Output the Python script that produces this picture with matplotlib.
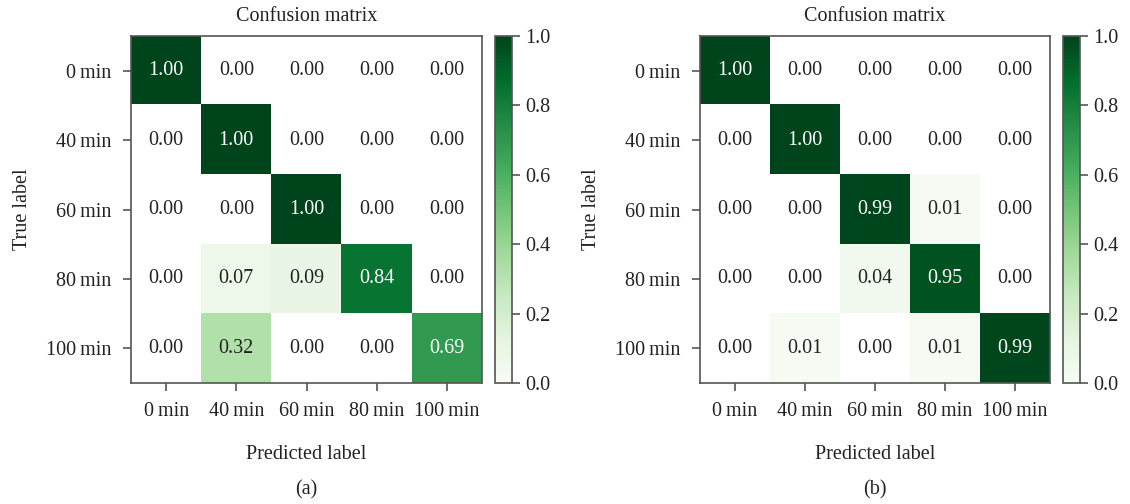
import numpy as np
import matplotlib
matplotlib.use("Agg")
import matplotlib.pyplot as plt

plt.rcParams['font.family'] = ['Liberation Serif', 'DejaVu Serif']

labels = ["0\u2009min", "40\u2009min", "60\u2009min", "80\u2009min", "100\u2009min"]

cm_a = np.array([
    [1.00, 0.00, 0.00, 0.00, 0.00],
    [0.00, 1.00, 0.00, 0.00, 0.00],
    [0.00, 0.00, 1.00, 0.00, 0.00],
    [0.00, 0.07, 0.09, 0.84, 0.00],
    [0.00, 0.32, 0.00, 0.00, 0.69],
])

cm_b = np.array([
    [1.00, 0.00, 0.00, 0.00, 0.00],
    [0.00, 1.00, 0.00, 0.00, 0.00],
    [0.00, 0.00, 0.99, 0.01, 0.00],
    [0.00, 0.00, 0.04, 0.95, 0.00],
    [0.00, 0.01, 0.00, 0.01, 0.99],
])

edge = "#555555"
txt = "#222222"
fs = 14.5


def draw_cm(fig, cm, ax_rect, cb_rect, letter):
    ax = fig.add_axes(ax_rect)
    ax.set_facecolor("white")
    # zero cells show as plain white in the original
    im = ax.imshow(np.ma.masked_equal(cm, 0), cmap="Greens", vmin=0, vmax=1,
                   interpolation="nearest", aspect="auto")
    n = len(labels)
    for i in range(n):
        for j in range(n):
            col = "white" if cm[i, j] > 0.5 else txt
            ax.text(j, i, "%.2f" % cm[i, j], ha="center", va="center", color=col, fontsize=fs)
    ax.set_xticks(range(n))
    ax.set_yticks(range(n))
    ax.set_xticklabels(labels, fontsize=fs)
    ax.set_yticklabels(labels, fontsize=fs)
    ax.tick_params(colors=edge, labelcolor=txt, length=6, width=1.2, pad=8)
    for s in ax.spines.values():
        s.set_color(edge)
        s.set_linewidth(1.2)
    ax.set_title("Confusion matrix", fontsize=fs, color=txt, pad=11)
    ax.set_xlabel("Predicted label", fontsize=fs, color=txt, labelpad=17)
    ax.set_ylabel("True label", fontsize=fs, color=txt, labelpad=10)

    cax = fig.add_axes(cb_rect)
    cb = fig.colorbar(im, cax=cax)
    cb.set_ticks([0.0, 0.2, 0.4, 0.6, 0.8, 1.0])
    cb.ax.tick_params(colors=edge, labelcolor=txt, length=6, width=1.2, labelsize=fs)
    cb.outline.set_edgecolor(edge)
    cb.outline.set_linewidth(1.2)

    x0 = ax_rect[0] + ax_rect[2] / 2
    fig.text(x0, 0.028, letter, ha="center", va="center", fontsize=fs, color=txt)


fig = plt.figure(figsize=(11.3, 5.04), dpi=100)
draw_cm(fig, cm_a, [0.116, 0.240, 0.3105, 0.6886], [0.438, 0.240, 0.015, 0.6886], "(a)")
draw_cm(fig, cm_b, [0.6195, 0.240, 0.3095, 0.6886], [0.9407, 0.240, 0.015, 0.6886], "(b)")
fig.savefig("out.png", dpi=100)
